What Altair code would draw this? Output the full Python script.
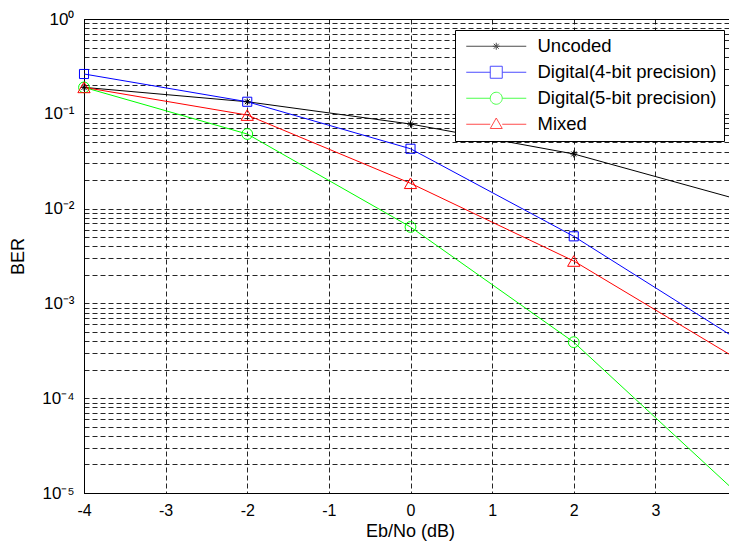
import altair as alt
import pandas as pd

# ---- data ----
x_vals = [-4, -2, 0, 2, 4]
series_names = ["Uncoded", "Digital(4-bit precision)", "Digital(5-bit precision)", "Mixed"]
uncoded = [0.19, 0.134, 0.078, 0.0377, 0.0126]
digital4 = [0.263, 0.134, 0.0428, 0.0051, 0.00042]
digital5 = [0.19, 0.0612, 0.0064, 0.00039, 0.00001]
mixed = [0.19, 0.097, 0.0185, 0.0028, 0.00026]
x_ticks = [-4, -3, -2, -1, 0, 1, 2, 3, 4]
y_decades = [1e-5, 1e-4, 1e-3, 1e-2, 1e-1, 1]
y_sup = ["⁰", "⁻¹", "⁻²", "⁻³", "⁻⁴", "⁻⁵"]

series_values = [uncoded, digital4, digital5, mixed]
rows = []
for name, vals in zip(series_names, series_values):
    for xv, yv in zip(x_vals, vals):
        rows.append({"snr": xv, "ber": yv, "series": name})
df = pd.DataFrame(rows)

# grid values: 1..9 x 10^k
y_grid = []
for d in y_decades[:-1]:
    for m in range(1, 10):
        y_grid.append(float(f"{m * d:.6g}"))
y_grid.append(1.0)

colors = ["#000000", "#0000ff", "#00ff00", "#ff0000"]
asterisk = "M0,-1V1M-1,0H1M-0.7,-0.7L0.7,0.7M-0.7,0.7L0.7,-0.7"
marker_shapes = [asterisk, "square", "circle", "triangle-up"]
marker_sizes = [49, 150, 113, 144]

# legend symbols: line with marker (path units scaled by sqrt(size)/2 = 5px)
leg_paths = [
    "M-1,0H11M5,-0.7V0.7M4.3,0H5.7M4.5,-0.5L5.5,0.5M4.5,0.5L5.5,-0.5",
    "M-1,0H3.8M6.2,0H11M3.8,-1.2H6.2V1.2H3.8Z",
    "M-1,0H3.8M6.2,0H11M3.8,0A1.2,1.2 0 1,1 6.2,0A1.2,1.2 0 1,1 3.8,0",
    "M-1,0H3.8M6.2,0H11M5,-1.25L6.2,0.85L3.8,0.85Z",
]

FONT = "Liberation Sans"

legend = alt.Legend(
    title=None,
    orient="none",
    legendX=371,
    legendY=11,
    fillColor="white",
    strokeColor="black",
    padding=7,
    cornerRadius=0,
    labelFont=FONT,
    labelFontSize=18.5,
    labelColor="black",
    labelOffset=57,
    labelLimit=400,
    symbolSize=100,
    symbolStrokeWidth=1,
    symbolFillColor="transparent",
    rowPadding=7,
)

x_enc = alt.X(
    "snr:Q",
    scale=alt.Scale(domain=[-4, 4], nice=False, zero=False),
    axis=alt.Axis(
        title="Eb/No (dB)",
        values=x_ticks,
        labelExpr="'' + datum.value",
        labelFlush=False,
        ticks=False,
        labelPadding=9,
        titleBaseline="top",
        titleY=29,
        titleX=326,
    ),
)
y_label_expr = (
    "abs(log(datum.value)/LN10 - round(log(datum.value)/LN10)) < 1e-6 ? '10' + "
    + str(y_sup)
    + "[-round(log(datum.value)/LN10)] : ''"
)
y_enc = alt.Y(
    "ber:Q",
    scale=alt.Scale(type="log", domain=[1e-5, 1], nice=False),
    axis=alt.Axis(
        title="BER",
        values=y_grid,
        labelExpr=y_label_expr,
        labelOverlap=False,
        labelFlush=False,
        ticks=False,
        labelPadding=10,
        labelFontSize=17,
        titleX=-66,
        titleY=237,
        titleAlign="center",
        titleBaseline="middle",
    ),
)
color_nolegend = alt.Color(
    "series:N", scale=alt.Scale(domain=series_names, range=colors), legend=None
)

lines = alt.Chart(df).mark_line(strokeWidth=1).encode(
    x=x_enc, y=y_enc, color=color_nolegend, detail="series:N"
)
points = alt.Chart(df).mark_point(filled=False, strokeWidth=1, opacity=1).encode(
    x=x_enc,
    y=y_enc,
    color=color_nolegend,
    shape=alt.Shape("series:N", scale=alt.Scale(domain=series_names, range=marker_shapes), legend=None),
    size=alt.Size("series:O", scale=alt.Scale(domain=series_names, range=marker_sizes), legend=None),
)
data_layer = alt.layer(lines, points)

legend_layer = (
    alt.Chart(df)
    .transform_filter("false")
    .mark_point(filled=False, strokeWidth=1)
    .encode(
        x=x_enc,
        y=y_enc,
        color=alt.Color("series:N", scale=alt.Scale(domain=series_names, range=colors), legend=legend),
        shape=alt.Shape("series:N", scale=alt.Scale(domain=series_names, range=leg_paths), legend=legend),
    )
)

chart = (
    alt.layer(data_layer, legend_layer)
    .resolve_scale(color="independent", shape="independent", size="independent")
    .properties(
        width=653,
        height=474,
        autosize=alt.AutoSizeParams(type="none"),
        padding={"left": 76, "top": 11, "right": -8, "bottom": 50},
        background="white",
    )
    .configure_view(stroke="black", strokeWidth=1)
    .configure_axis(
        domainColor="black",
        domainWidth=1,
        grid=True,
        gridColor="black",
        gridOpacity=0.85,
        gridDash=[5, 3],
        gridWidth=1,
        labelFont=FONT,
        labelFontSize=16,
        labelColor="black",
        titleFont=FONT,
        titleFontSize=18,
        titleFontWeight="normal",
        titleColor="black",
    )
)

chart.save("out.html", embed_options={"renderer": "svg", "actions": False})
